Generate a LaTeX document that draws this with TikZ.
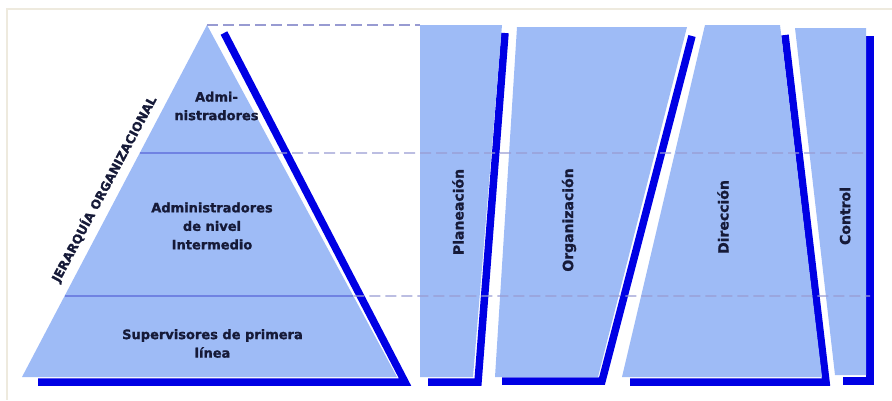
\documentclass[tikz,border=0pt]{standalone}
\usepackage{fontspec}
\setmainfont{DejaVu Sans}[BoldFont={DejaVu Sans Bold}, BoldFeatures={FakeBold=1.2}]
\usepackage{tikz}
\usetikzlibrary{positioning, calc}
\definecolor{relleno}{RGB}{158,187,246}
\definecolor{azul}{RGB}{0,0,228}
\definecolor{nivel}{RGB}{112,130,226}
\definecolor{guia}{RGB}{152,155,210}
\definecolor{tinta}{RGB}{22,26,56}
\definecolor{marco}{RGB}{238,234,222}

\begin{document}
\begin{tikzpicture}[x=1pt, y=-1pt,
    capa/.style={fill=relleno},
    sombra/.style={draw=azul, line width=7.5pt, line join=miter},
    corte/.style={draw=guia, line width=1.3pt, dash pattern=on 11pt off 5pt},
    texto/.style={text=tinta, align=center, inner sep=0pt,
      font=\bfseries\fontsize{13}{18.5}\selectfont},
    funcion/.style={text=tinta, inner sep=0pt, rotate=90,
      font=\bfseries\fontsize{14}{16}\selectfont}]
    \useasboundingbox (0,0) rectangle (892,400);
    \draw[marco, line width=2pt] (892,9) -- (7,9) -- (7,400);

    % piramide
    \coordinate (cima) at (207,25);
    \coordinate (izq) at (22,377);
    \coordinate (der) at (397,377);
    \draw[sombra] (224,33) -- (405,382) -- (38,382);
    \fill[capa] (cima) -- (der) -- (izq) -- cycle;
    \draw[nivel, line width=1.3pt] ($(cima)!.3636!(izq)$) coordinate (n1) -- ($(cima)!.3636!(der)$) coordinate (m1);
    \draw[nivel, line width=1.3pt] ($(cima)!.7699!(izq)$) coordinate (n2) -- ($(cima)!.7699!(der)$) coordinate (m2);

    % columnas
    \draw[sombra] (505,33) -- (478,382) -- (428,382);
    \fill[capa] (420,25) -- (502,25) -- (473,377) -- (420,377) -- cycle;
    \draw[sombra] (692,36) -- (602,381) -- (502,381);
    \fill[capa] (517,27) -- (687,27) -- (598,377) -- (495,377) -- cycle;
    \draw[sombra] (785,35) -- (826,382) -- (630,382);
    \fill[capa] (705,25) -- (780,25) -- (822,377) -- (622,377) -- cycle;
    \draw[sombra] (870,36) -- (870,381) -- (843,381);
    \fill[capa] (795,28) -- (866,28) -- (866,375) -- (835,375) -- cycle;

    % lineas de nivel
    \coordinate (fin1) at (868,153);
    \coordinate (fin2) at (870,296);
    \draw[corte] (cima) -- (420,25);
    \draw[corte] (m1) -- (fin1);
    \draw[corte] (m2) -- (fin2);

    \node[texto] (alta) at (216.5,106) {Admi-\\nistradores};
    \node[texto] (media) at (212,226) {Administradores\\de nivel\\Intermedio};
    \node[texto] (baja) at (212.5,343.5) {Supervisores de primera\\línea};
    \node[texto, rotate=62, font=\bfseries\fontsize{12.5}{14}\selectfont] (jerarquia) at (104,189) {JERARQUÍA ORGANIZACIONAL};

    \node[funcion] (planeacion) at (458,212) {Planeación};
    \node[funcion] (organizacion) at (569,220) {Organización};
    \node[funcion] (direccion) at (723,217) {Dirección};
    \node[funcion] (control) at (845,216) {Control};
\end{tikzpicture}
\end{document}
